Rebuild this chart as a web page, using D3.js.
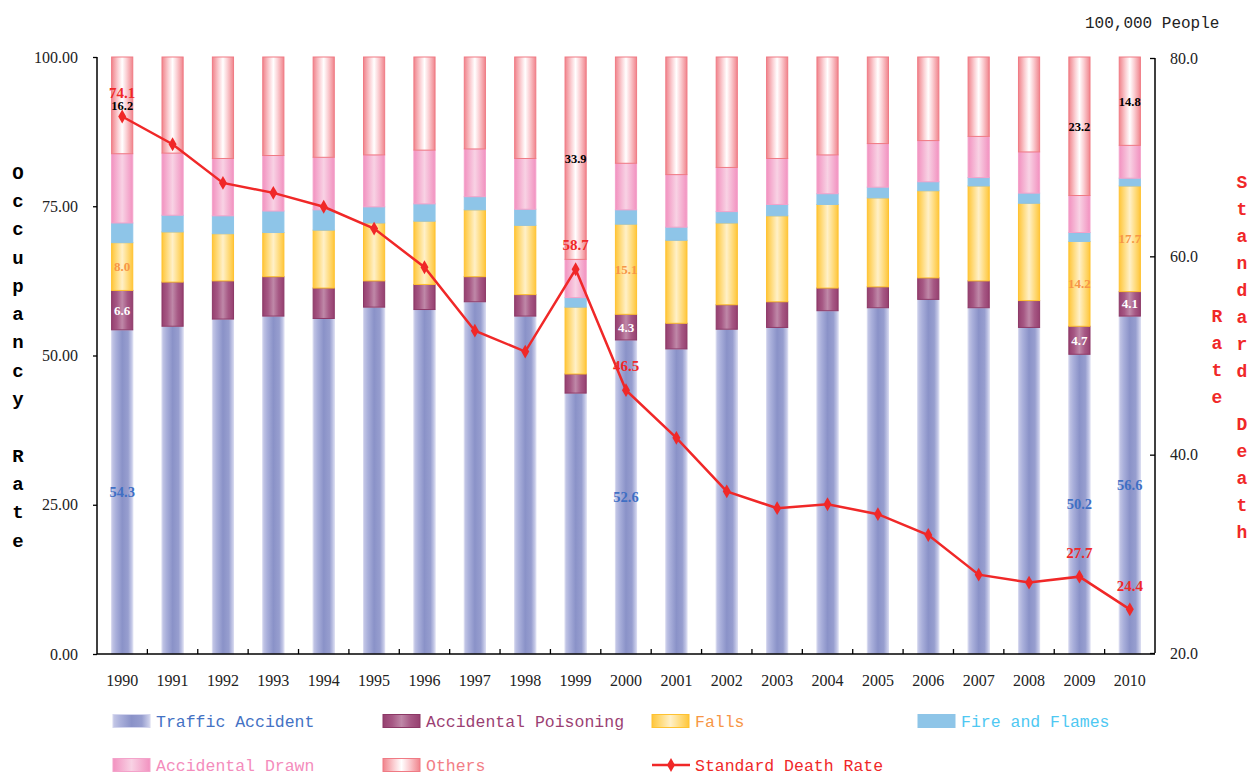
<!DOCTYPE html>
<html><head><meta charset="utf-8">
<script src="https://cdn.jsdelivr.net/npm/d3@7"></script>
<style>body{margin:0;background:#fff}svg{display:block}</style>
</head><body>
<svg id="c" width="1258" height="776"></svg>
<script>
const years = [1990,1991,1992,1993,1994,1995,1996,1997,1998,1999,2000,2001,2002,2003,2004,2005,2006,2007,2008,2009,2010];
const traffic   = [54.3,54.9,56.1,56.6,56.2,58.1,57.7,59.0,56.6,43.7,52.6,51.1,54.4,54.7,57.5,58.0,59.4,58.0,54.7,50.2,56.6];
const poisoning = [6.6,7.4,6.4,6.6,5.1,4.4,4.2,4.2,3.6,3.2,4.3,4.3,4.1,4.3,3.8,3.5,3.6,4.5,4.5,4.7,4.1];
const falls     = [8.0,8.4,7.9,7.4,9.7,9.7,10.6,11.2,11.6,11.2,15.1,13.9,13.7,14.4,14.0,14.9,14.6,15.9,16.3,14.2,17.7];
const fire      = [3.3,2.8,3.0,3.6,3.4,2.7,2.9,2.2,2.7,1.6,2.4,2.2,1.9,1.9,1.8,1.8,1.5,1.4,1.7,1.5,1.3];
const drawn     = [11.6,10.4,9.6,9.3,8.8,8.7,9.0,8.0,8.5,6.4,7.8,8.8,7.4,7.7,6.5,7.3,6.9,6.9,6.9,6.2,5.5];
const others    = [16.2,16.1,17.0,16.5,16.8,16.4,15.6,15.4,17.0,33.9,17.8,19.7,18.5,17.0,16.4,14.5,14.0,13.3,15.9,23.2,14.8];
const deathRate = [74.1,71.3,67.4,66.4,65.0,62.8,58.9,52.5,50.4,58.7,46.5,41.7,36.3,34.6,35.0,34.0,31.9,27.9,27.1,27.7,24.4];
const leftTicks = [0,25,50,75,100];
const rightTicks = [20,40,60,80];
const seriesNames = ["Traffic Accident","Accidental Poisoning","Falls","Fire and Flames","Accidental Drawn","Others"];
const lineName = "Standard Death Rate";
const labelYears = {traffic:[1990,2000,2009,2010], poisoning:[1990,2000,2009,2010], falls:[1990,2000,2009,2010], others:[1990,1999,2009,2010], death:[1990,1999,2000,2009,2010]};

const keys = ["traffic","poisoning","falls","fire","drawn","others"];
const table = years.map((y,i)=>({year:y, traffic:traffic[i], poisoning:poisoning[i], falls:falls[i], fire:fire[i], drawn:drawn[i], others:others[i], death:deathRate[i]}));

const style = {
  traffic:  {stops:[[0,"#c6c9e7"],[0.2,"#aab0db"],[0.5,"#8a92c8"],[0.78,"#979ecf"],[1,"#d2d5ee"]], stroke:"#d4d6ee", text:"#4472c4", label:"#3f6fc4", fs:14.5},
  poisoning:{stops:[[0,"#964070"],[0.25,"#a65884"],[0.5,"#bf88a8"],[0.75,"#a65884"],[1,"#964070"]], stroke:"#8c3866", text:"#9b3f73", label:"#ffffff", fs:13},
  falls:    {stops:[[0,"#ffc63a"],[0.25,"#ffdc80"],[0.5,"#fff0c8"],[0.75,"#ffdc80"],[1,"#ffc63a"]], stroke:"#ffc230", text:"#f79646", label:"#f79646", fs:13},
  fire:     {stops:[[0,"#8ec5e8"],[1,"#8ec5e8"]], stroke:"#8ec5e8", text:"#4ec8f2"},
  drawn:    {stops:[[0,"#f292c0"],[0.5,"#f8d2e4"],[1,"#f292c0"]], stroke:"#f4a2ca", text:"#f48cbc"},
  others:   {stops:[[0,"#f0848c"],[0.3,"#fbd0d4"],[0.5,"#ffffff"],[0.7,"#fbd0d4"],[1,"#f0848c"]], stroke:"#f07a84", text:"#f27e86", label:"#000000", fs:12.5}
};
const red = "#f02828";

const svg = d3.select("#c");
const defs = svg.append("defs");
keys.forEach(k=>{
  const g = defs.append("linearGradient").attr("id","g_"+k).attr("x1","0").attr("x2","1").attr("y1","0").attr("y2","0");
  style[k].stops.forEach(s=>g.append("stop").attr("offset",s[0]).attr("stop-color",s[1]));
});

const L=97, R=1155, T=57, B=654;
const x = d3.scaleBand().domain(years).range([L,R]).padding(0);
const y = d3.scaleLinear().domain([0,100]).range([B,T]);
const y2 = d3.scaleLinear().domain([20,80]).range([653,58]);
const barW = x.bandwidth()*0.42;

const stack = d3.stack().keys(keys)(table);
const gBars = svg.append("g");
stack.forEach(layer=>{
  const k = layer.key;
  gBars.selectAll(null).data(layer).join("rect")
    .attr("x",d=>x(d.data.year)+x.bandwidth()/2-barW/2)
    .attr("width",barW)
    .attr("y",d=>y(d[1]))
    .attr("height",d=>y(d[0])-y(d[1]))
    .attr("fill","url(#g_"+k+")")
    .attr("stroke",style[k].stroke).attr("stroke-width",1);
});

// value labels in bars
const gLab = svg.append("g").attr("font-family","'Liberation Serif',serif").attr("font-weight","bold").attr("text-anchor","middle");
stack.forEach(layer=>{
  const k = layer.key;
  if(!labelYears[k]) return;
  gLab.selectAll(null).data(layer.filter(d=>labelYears[k].includes(d.data.year))).join("text")
    .attr("x",d=>x(d.data.year)+x.bandwidth()/2)
    .attr("y",d=>(y(d[0])+y(d[1]))/2)
    .attr("dy","0.35em")
    .attr("font-size",style[k].fs)
    .attr("fill",style[k].label)
    .text(d=>d.data[k].toFixed(1));
});

// axes
const axL = svg.append("g").attr("transform",`translate(${L},0)`)
  .call(d3.axisLeft(y).tickValues(leftTicks).tickFormat(d3.format(".2f")).tickSizeInner(4).tickSizeOuter(0).tickPadding(15));
const axR = svg.append("g").attr("transform",`translate(${R},0)`)
  .call(d3.axisRight(y2).tickValues(rightTicks).tickFormat(d3.format(".1f")).tickSizeInner(-5).tickSizeOuter(0).tickPadding(15));
[axL,axR].forEach(a=>{
  a.select(".domain").attr("stroke","#000").attr("stroke-width",1.5);
  a.selectAll("text").attr("font-family","'Liberation Serif',serif").attr("font-size",16).attr("fill","#222");
  a.selectAll(".tick line").attr("stroke","#000").attr("stroke-width",1.3);
});
axL.select(".domain").attr("d",`M0,${T}V${B}`);
axR.select(".domain").attr("d",`M0,${y2(80)}V${y2(20)}`);
svg.append("line").attr("x1",L).attr("x2",R).attr("y1",B).attr("y2",B).attr("stroke","#000").attr("stroke-width",1.5);
svg.append("g").selectAll("line").data(years.slice(1)).join("line")
  .attr("x1",d=>x(d)).attr("x2",d=>x(d)).attr("y1",B).attr("y2",B-5).attr("stroke","#000").attr("stroke-width",1.3);
svg.append("g").selectAll("text").data(years).join("text")
  .attr("x",d=>x(d)+x.bandwidth()/2).attr("y",680).attr("dy","0.35em").attr("text-anchor","middle")
  .attr("font-family","'Liberation Serif',serif").attr("font-size",16).attr("fill","#222").text(d=>d);

// line
const line = d3.line().x(d=>x(d.year)+x.bandwidth()/2).y(d=>y2(d.death));
svg.append("path").datum(table).attr("d",line).attr("fill","none").attr("stroke",red).attr("stroke-width",2.5);
svg.append("g").selectAll("path").data(table).join("path")
  .attr("transform",d=>`translate(${x(d.year)+x.bandwidth()/2},${y2(d.death)})`)
  .attr("d",d3.symbol(d3.symbolDiamond,55)).attr("fill",red);
svg.append("g").selectAll("text").data(table.filter(d=>labelYears.death.includes(d.year))).join("text")
  .attr("x",d=>x(d.year)+x.bandwidth()/2).attr("y",d=>y2(d.death)-24).attr("dy","0.35em")
  .attr("text-anchor","middle").attr("font-family","'Liberation Serif',serif").attr("font-weight","bold")
  .attr("font-size",15).attr("fill",red).text(d=>d.death.toFixed(1));

// unit
svg.append("text").attr("x",1085).attr("y",22).attr("dy","0.35em").attr("font-family","'Liberation Mono',monospace")
  .attr("font-size",16).attr("fill","#222").text("100,000 People");

// left title (vertical stacked letters)
const leftTitle = "Occupancy Rate".split("");
svg.append("g").selectAll("text").data(leftTitle).join("text")
  .attr("x",18).attr("y",(d,i)=>172+i*28.3).attr("dy","0.35em").attr("text-anchor","middle")
  .attr("font-family","'Liberation Mono',monospace").attr("font-weight","bold").attr("font-size",19).attr("fill","#000").text(d=>d);
// right title: two columns, right column first
const rCol1 = "Standard Death".split(""), rCol2 = "Rate".split("");
svg.append("g").selectAll("text").data(rCol1).join("text")
  .attr("x",1242).attr("y",(d,i)=>182+i*26.9).attr("dy","0.35em").attr("text-anchor","middle")
  .attr("font-family","'Liberation Mono',monospace").attr("font-weight","bold").attr("font-size",18).attr("fill",red).text(d=>d);
svg.append("g").selectAll("text").data(rCol2).join("text")
  .attr("x",1217).attr("y",(d,i)=>316+i*26.9).attr("dy","0.35em").attr("text-anchor","middle")
  .attr("font-family","'Liberation Mono',monospace").attr("font-weight","bold").attr("font-size",18).attr("fill",red).text(d=>d);

// legend
const legPos = [[113,721],[383,721],[652,721],[918,721],[113,765],[383,765]];
const leg = svg.append("g").attr("font-family","'Liberation Mono',monospace").attr("font-size",16.5);
keys.forEach((k,i)=>{
  const [lx,ly] = legPos[i];
  leg.append("rect").attr("x",lx).attr("y",ly-6.5).attr("width",37).attr("height",13)
    .attr("fill","url(#g_"+k+")").attr("stroke",style[k].stroke).attr("stroke-width",1);
  leg.append("text").attr("x",lx+43).attr("y",ly).attr("dy","0.35em").attr("fill",style[k].text).text(seriesNames[i]);
});
leg.append("line").attr("x1",652).attr("x2",690).attr("y1",765).attr("y2",765).attr("stroke",red).attr("stroke-width",2.5);
leg.append("path").attr("transform","translate(671,765)").attr("d",d3.symbol(d3.symbolDiamond,55)).attr("fill",red);
leg.append("text").attr("x",695).attr("y",765).attr("dy","0.35em").attr("fill",red).text(lineName);
</script>
</body></html>
